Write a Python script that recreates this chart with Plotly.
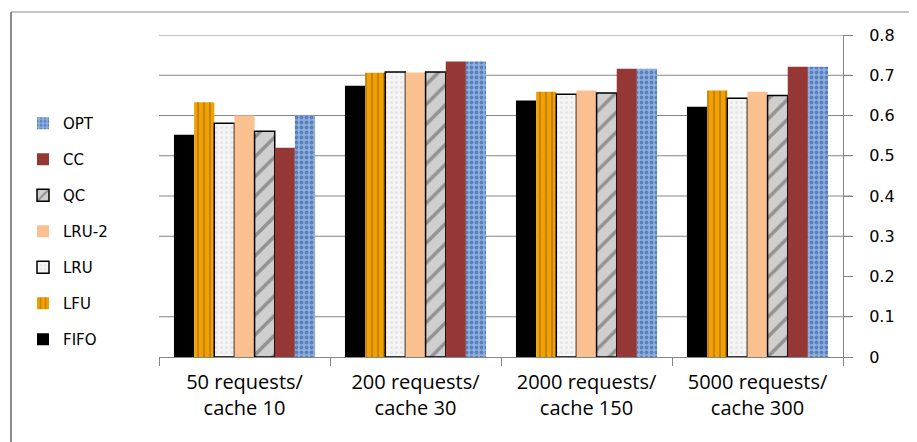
import plotly.graph_objects as go

categories = ["50 requests/<br>cache 10", "200 requests/<br>cache 30",
              "2000 requests/<br>cache 150", "5000 requests/<br>cache 300"]
series_names = ["FIFO", "LFU", "LRU", "LRU-2", "QC", "CC", "OPT"]
fifo = [0.552, 0.674, 0.637, 0.622]
lfu = [0.633, 0.706, 0.659, 0.662]
lru = [0.581, 0.708, 0.653, 0.643]
lru2 = [0.600, 0.707, 0.662, 0.659]
qc = [0.561, 0.708, 0.656, 0.650]
cc = [0.520, 0.734, 0.716, 0.721]
opt = [0.600, 0.734, 0.716, 0.721]
series_values = [fifo, lfu, lru, lru2, qc, cc, opt]
y_ticks = [0, 0.1, 0.2, 0.3, 0.4, 0.5, 0.6, 0.7, 0.8]
grid_vals = [0.1, 0.3, 0.4, 0.5, 0.6, 0.7, 0.8]

styles = {
    "FIFO": dict(color="#000000"),
    "LFU": dict(color="#E8960A", pattern=dict(shape="|", fgcolor="#9A5F00", bgcolor="#F2A200", size=6, solidity=0.35)),
    "LRU": dict(color="#F2F2F2", pattern=dict(shape=".", fgcolor="#D6D6D6", bgcolor="#F5F5F5", size=5, solidity=0.3),
                line=dict(color="#000000", width=1.5)),
    "LRU-2": dict(color="#FAC090"),
    "QC": dict(color="#C0C0C0", pattern=dict(shape="/", fgcolor="#555555", bgcolor="#CFCFCF", size=14, solidity=0.25),
               line=dict(color="#000000", width=1.5)),
    "CC": dict(color="#953735"),
    "OPT": dict(color="#7F9FD8", pattern=dict(shape=".", fgcolor="#2E4E8C", bgcolor="#8DB0E3", size=5, solidity=0.45)),
}

fig = go.Figure()
n = len(series_names)
for i, (name, vals) in enumerate(zip(series_names, series_values)):
    st = dict(styles[name])
    if "line" not in st:
        st["line"] = dict(width=0)
    fig.add_trace(go.Bar(name=name, x=categories, y=vals, marker=st, legendgroup=name,
                         legendrank=n - i))

OFF = 8  # default page body margin
L, R, T, B = 159 - OFF, 843 - OFF, 35 - OFF, 357 - OFF
W, H = 917 - OFF, 442 - OFF
pw, ph = R - L, B - T

shapes = []
for v in grid_vals:
    shapes.append(dict(type="line", xref="paper", yref="y", x0=0, x1=9 / pw + 1, y0=v, y1=v,
                       line=dict(color="#868686", width=1), layer="below"))
# outer chart border (left and top)
bx = (11 - OFF - L) / pw
by = (B - (12 - OFF)) / ph
shapes.append(dict(type="line", xref="paper", yref="paper", x0=bx, x1=bx, y0=-0.4, y1=by,
                   line=dict(color="#8C8C8C", width=2)))
shapes.append(dict(type="line", xref="paper", yref="paper", x0=bx, x1=1.2, y0=by, y1=by,
                   line=dict(color="#8C8C8C", width=1)))

fig.update_layout(
    width=W, height=H,
    margin=dict(l=L, r=W - R, t=T, b=H - B),
    plot_bgcolor="white", paper_bgcolor="white",
    barmode="group", bargap=0.175, bargroupgap=0,
    shapes=shapes,
    legend=dict(x=(15 - L) / pw, xanchor="left", y=(B - 99) / ph, yanchor="top",
                traceorder="grouped", tracegroupgap=13.5,
                font=dict(family="DejaVu Sans", size=15, color="#000000"),
                bgcolor="rgba(0,0,0,0)"),
    xaxis=dict(showline=True, linecolor="#868686", linewidth=1, ticks="outside", tickson="boundaries",
               ticklen=8, tickcolor="#868686", ticklabelstandoff=7,
               tickfont=dict(family="Open Sans", size=20, color="#000000")),
    yaxis=dict(side="right", range=[0, 0.8], tickvals=y_ticks, showgrid=False, zeroline=False,
               showline=True, linecolor="#868686", linewidth=1, ticks="outside", ticklen=9,
               ticklabelstandoff=13,
               tickcolor="#868686", tickfont=dict(family="DejaVu Sans", size=16, color="#000000")),
)

fig.write_html("out.html")
